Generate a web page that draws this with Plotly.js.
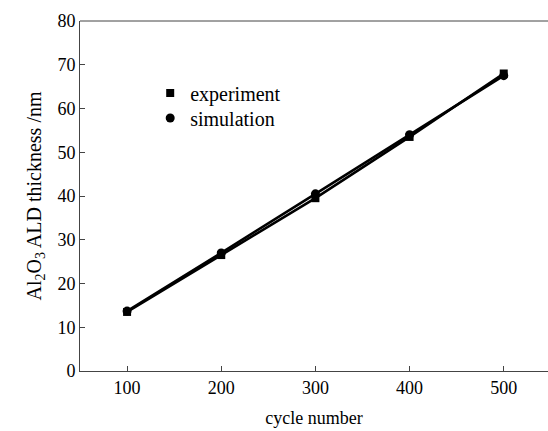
<!DOCTYPE html>
<html>
<head>
<meta charset="utf-8">
<script src="https://cdn.plot.ly/plotly-3.0.1.min.js"></script>
<style>html,body{margin:0;padding:0;background:#fff;}#chart{width:548px;height:431px;}</style>
</head>
<body>
<div id="chart"></div>
<script>
// ALD growth: film thickness versus number of cycles
const cycles = [100, 200, 300, 400, 500];
const experiment = [13.5, 26.5, 39.5, 53.5, 68.0];
const simulation = [13.7, 27.0, 40.5, 54.0, 67.5];
const xTicks = [100, 200, 300, 400, 500];
const yTicks = [0, 10, 20, 30, 40, 50, 60, 70, 80];

const serif = 'Liberation Serif';
const font = {family: serif, color: '#000', size: 18};
const keyFont = {family: serif, size: 20, color: '#000'};

const traces = [
  {x: cycles, y: experiment, mode: 'lines', line: {color: '#000', width: 2.6}, showlegend: false, hoverinfo: 'skip'},
  {x: cycles, y: simulation, mode: 'lines', line: {color: '#000', width: 2.6}, showlegend: false, hoverinfo: 'skip'},
  {x: cycles, y: experiment, mode: 'markers', name: 'experiment', legend: 'legend',
   marker: {symbol: 'square', size: 8, color: '#000'}},
  {x: cycles, y: simulation, mode: 'markers', name: 'simulation', legend: 'legend2',
   marker: {symbol: 'circle', size: 9, color: '#000'}}
];

const layout = {
  width: 548, height: 431,
  margin: {l: 80, r: 0, t: 21, b: 60},
  paper_bgcolor: '#fff', plot_bgcolor: '#fff',
  font: font,
  showlegend: true,
  legend: {x: 0.15, y: 0.794, xanchor: 'left', yanchor: 'middle', bgcolor: 'rgba(0,0,0,0)',
           font: keyFont, itemwidth: 30},
  legend2: {x: 0.15, y: 0.723, xanchor: 'left', yanchor: 'middle', bgcolor: 'rgba(0,0,0,0)',
            font: keyFont, itemwidth: 30},
  xaxis: {
    range: [50, 547], tickvals: xTicks, ticktext: xTicks.map(String),
    ticks: 'inside', ticklen: 5, tickcolor: '#444', showline: true, linecolor: '#444', linewidth: 1,
    mirror: false, showgrid: false, zeroline: false, tickfont: font,
    title: {text: 'cycle number', font: {family: serif, size: 18, color: '#000'}, standoff: 14}
  },
  yaxis: {
    range: [0, 80], tickvals: yTicks, ticktext: yTicks.map(String),
    ticks: 'inside', ticklen: 5, tickcolor: '#444', showline: true, linecolor: '#444', linewidth: 1,
    showgrid: false, zeroline: false, tickfont: font,
    title: {text: 'Al<sub>2</sub>O<sub>3</sub> ALD thickness /nm', font: {family: serif, size: 20, color: '#000'}, standoff: 10}
  },
  shapes: [
    {type: 'line', xref: 'paper', yref: 'paper', x0: 0, x1: 1, y0: 1, y1: 1, line: {color: '#444', width: 1}}
  ]
};

Plotly.newPlot('chart', traces, layout, {staticPlot: true, displayModeBar: false});
</script>
</body>
</html>
